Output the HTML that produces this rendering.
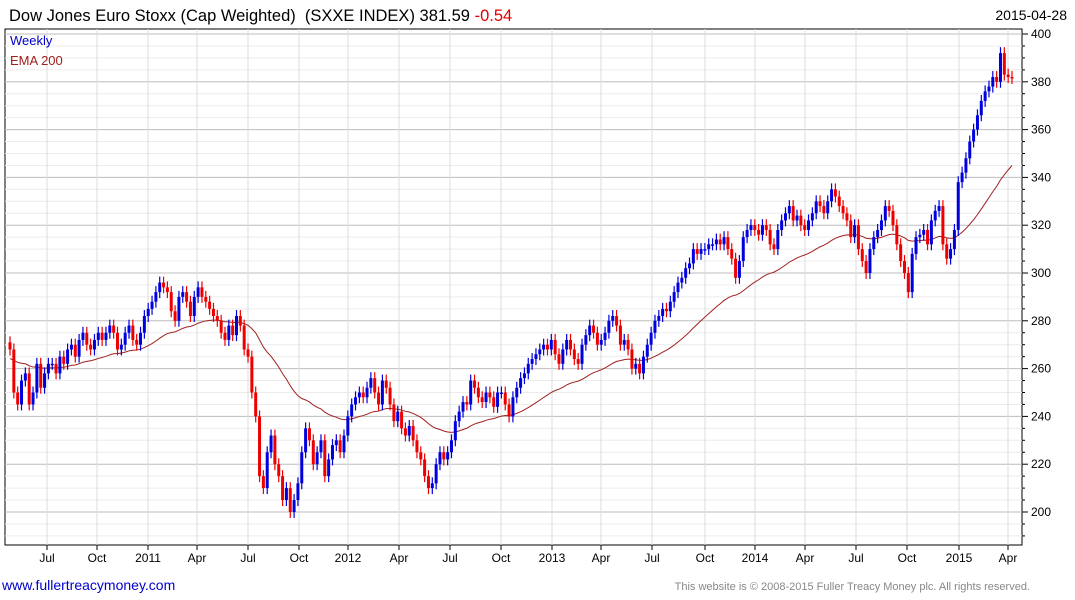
<!DOCTYPE html>
<html><head><meta charset="utf-8"><style>
body{margin:0;background:#fff;font-family:"Liberation Sans",sans-serif}
svg{display:block}
</style></head><body>
<svg id="c" width="1075" height="600">
<text x="9" y="21" font-size="16.5" fill="#000">Dow Jones Euro Stoxx (Cap Weighted) &#160;(SXXE INDEX) 381.59 <tspan fill="#e00000">-0.54</tspan></text>
<text x="1067" y="20" font-size="14" text-anchor="end" fill="#000">2015-04-28</text>
<rect x="5" y="29" width="1017" height="516" fill="none" stroke="#000" stroke-width="1"/>
<g id="grid"></g><g id="ema"></g><g id="candles"></g><g id="axes"></g>
<text x="10" y="45" font-size="13" fill="#0000cc">Weekly</text>
<text x="10" y="65" font-size="13" fill="#a02020">EMA 200</text>
<text x="2" y="590" font-size="14" fill="#0000cc">www.fullertreacymoney.com</text>
<text x="1030" y="590" font-size="11" text-anchor="end" fill="#888">This website is © 2008-2015 Fuller Treacy Money plc. All rights reserved.</text>
</svg>
<script>
const closes=[268,250,245,255,258,245,250,262,252,258,262,
262,258,265,262,268,270,265,272,275,270,268,272,275,
272,275,278,275,268,270,275,278,272,270,275,282,285,
288,292,296,294,292,284,280,290,292,288,282,290,294,
290,288,285,282,280,275,272,278,274,282,278,268,265,
250,240,215,210,225,232,220,215,205,210,200,205,212,
225,235,230,220,225,230,215,222,228,230,225,232,240,
245,248,250,248,252,256,250,245,255,252,245,238,242,
235,232,236,230,225,222,215,210,212,220,225,222,225,
230,238,242,246,245,255,252,248,246,250,248,244,250,
250,245,240,248,252,256,258,262,264,266,268,270,268,
272,266,262,268,272,268,264,262,270,274,278,275,270,
272,275,280,282,278,270,272,268,260,262,258,265,270,
275,280,282,285,284,288,292,296,298,302,304,310,308,310,
310,312,312,314,312,315,310,306,298,305,315,318,320,
318,316,320,318,312,310,318,322,325,328,322,324,320,
318,322,325,330,328,325,330,335,332,328,325,322,315,
320,310,305,300,310,315,318,322,328,326,320,312,305,
300,292,308,315,316,318,312,322,326,328,312,306,310,
318,338,342,348,355,360,366,372,376,378,382,380,392,383,382,381.59];
const emaStart=264;
const emaPeriod=40;
const yTicks=[200,220,240,260,280,300,320,340,360,380,400];
const xTickLabels=["Jul","Oct","2011","Apr","Jul","Oct","2012","Apr","Jul","Oct","2013","Apr","Jul","Oct","2014","Apr","Jul","Oct","2015","Apr"];
const xTickPos=[47,97,148,197,248,299,348,399,450,501,552,601,652,705,755,805,856,907,959,1008];
const NS="http://www.w3.org/2000/svg";
const y=v=>34+(400-v)*2.39;
const n=closes.length;
const x=i=>10+i*(1012-10)/(n-1);
function mk(t,a,p){const e=document.createElementNS(NS,t);for(const k in a)e.setAttribute(k,a[k]);p.appendChild(e);return e;}
const G=document.getElementById('grid'),A=document.getElementById('axes');
for(let v=190;v<=400;v+=5){
 const dark=v%20===0;
 const l=mk('line',{x1:5,x2:1022,y1:y(v),y2:y(v),stroke:dark?'#bdbdbd':'#ececec','stroke-width':1},G);
 
 
 const tk=mk('line',{x1:1022,x2:dark?1028:1025,y1:y(v),y2:y(v),stroke:'#000'},A);
 
 
}
yTicks.forEach(v=>{
 const t=mk('text',{x:1031,y:y(v)+4,'font-size':12,fill:'#000'},A);t.textContent=v;
 
 
});
xTickLabels.forEach((s,i)=>{
 const px=xTickPos[i];
 const l=mk('line',{x1:px,x2:px,y1:29,y2:545,stroke:'#dcdcdc'},G);
 
 
 const tk=mk('line',{x1:px,x2:px,y1:545,y2:550,stroke:'#000'},A);
 
 
 const t=mk('text',{x:px,y:562,'font-size':12,'text-anchor':'middle',fill:'#000'},A);t.textContent=s;
 
 
});
const C=document.getElementById('candles');
let prev=closes[0]+3;
const emaVals=[];let e=emaStart;const al=2/(emaPeriod+1);
closes.forEach((c,i)=>{
 const o=prev;prev=c;
 e=e+al*(c-e);emaVals.push(e);
 const up=c>=o,col=up?'#0000dd':'#ee0000';
 const hi=Math.max(o,c)+2.5,lo=Math.min(o,c)-2.5;
 const w=mk('line',{x1:x(i),x2:x(i),y1:y(hi),y2:y(lo),stroke:col,'stroke-width':1.2},C);
 
 
 const top=y(Math.max(o,c)),h=Math.max(1.5,Math.abs(y(o)-y(c)));
 const r=mk('rect',{x:x(i)-1.5,y:top,width:3,height:h,fill:col},C);
 
 
});
const p=mk('polyline',{points:emaVals.map((v,i)=>x(i)+','+y(v)).join(' '),fill:'none',stroke:'#a02020','stroke-width':1},document.getElementById('ema'));


</script>
</body></html>
